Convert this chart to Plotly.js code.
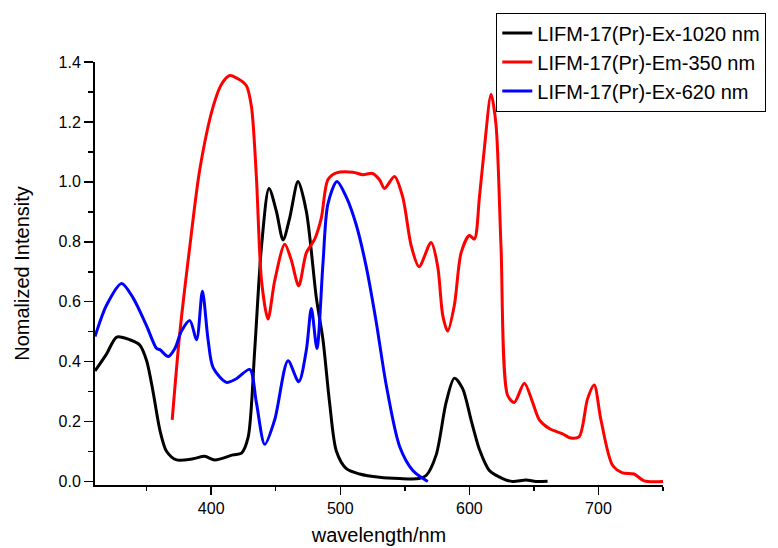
<!DOCTYPE html>
<html>
<head>
<meta charset="utf-8">
<script src="https://cdn.plot.ly/plotly-3.0.1.min.js"></script>
<style>html,body{margin:0;padding:0;background:#fff;}#chart{width:778px;height:548px;}</style>
</head>
<body>
<div id="chart"></div>
<script>
// LIFM-17(Pr)-Ex-1020 nm (black)
const exA_x = [310, 319, 326.8, 337, 344.8, 350, 355, 360.3, 365.4, 373.2, 386, 395, 402.8, 417, 423.5, 428.6, 433.7, 439, 444.8, 450.5, 455.7, 460.8, 467.3, 473.7, 481.5, 486.6, 491.7, 497, 504.7, 515, 530.4, 545.9, 561, 566.5, 574.3, 582, 588.4, 594.8, 601.3, 607.8, 615.5, 625.8, 633.5, 643.9, 651.6, 660.6];
const exA_y = [0.369, 0.426, 0.482, 0.473, 0.455, 0.403, 0.299, 0.171, 0.101, 0.072, 0.076, 0.084, 0.072, 0.089, 0.095, 0.147, 0.438, 0.786, 0.978, 0.902, 0.806, 0.879, 1.001, 0.902, 0.612, 0.473, 0.264, 0.101, 0.043, 0.025, 0.014, 0.010, 0.010, 0.020, 0.089, 0.264, 0.345, 0.310, 0.206, 0.107, 0.037, 0.010, 0.000, 0.005, 0.000, 0.001];

// LIFM-17(Pr)-Em-350 nm (red)
const em_x = [369.8, 375.7, 383.5, 391.2, 401.5, 408, 414.4, 420.8, 427.3, 431.2, 435, 439, 444, 449.2, 457, 462, 467.8, 473.7, 480.2, 485.3, 490.4, 497, 509.8, 517.5, 525, 530.4, 534.3, 542, 548.4, 555, 561, 570.4, 575.5, 579.4, 583.2, 588.4, 593.6, 600, 603.9, 607.8, 611.6, 616.8, 620.6, 624.5, 629.7, 634.8, 642.6, 649, 654.2, 661.9, 672.2, 678.7, 685.1, 691.5, 696.7, 701.9, 710.8, 718.6, 727.6, 735.4, 750];
const em_y = [0.206, 0.496, 0.786, 1.042, 1.251, 1.326, 1.355, 1.344, 1.321, 1.251, 1.018, 0.670, 0.542, 0.670, 0.792, 0.740, 0.653, 0.763, 0.809, 0.879, 1.007, 1.030, 1.032, 1.024, 1.028, 1.007, 0.978, 1.018, 0.949, 0.786, 0.717, 0.798, 0.717, 0.554, 0.502, 0.589, 0.763, 0.821, 0.809, 0.949, 1.111, 1.292, 1.193, 0.786, 0.287, 0.264, 0.328, 0.264, 0.206, 0.177, 0.159, 0.145, 0.150, 0.275, 0.322, 0.206, 0.055, 0.029, 0.025, 0.002, 0.000];

// LIFM-17(Pr)-Ex-620 nm (blue)
const exB_x = [310, 319, 330.6, 339.6, 350, 357.7, 360.3, 366.7, 371.9, 377, 383.5, 388.7, 393.2, 397.6, 401.5, 411.8, 419.5, 429.9, 435, 441.5, 449.2, 459.5, 467.8, 473.7, 477.6, 481.9, 486.6, 490.4, 497.4, 504.7, 512.4, 520.1, 527.9, 535.6, 545.9, 556.2, 567.8];
const exB_y = [0.484, 0.589, 0.661, 0.612, 0.519, 0.444, 0.440, 0.417, 0.444, 0.502, 0.537, 0.473, 0.635, 0.473, 0.380, 0.331, 0.343, 0.374, 0.264, 0.124, 0.206, 0.403, 0.333, 0.438, 0.577, 0.444, 0.728, 0.926, 1.001, 0.949, 0.856, 0.717, 0.531, 0.322, 0.118, 0.037, 0.000];

const names = ['LIFM-17(Pr)-Ex-1020 nm', 'LIFM-17(Pr)-Em-350 nm', 'LIFM-17(Pr)-Ex-620 nm'];
const colors = ['#000000', '#ff0000', '#0000ff'];

const font = 'Liberation Sans, Arial, sans-serif';
const traces = [[exA_x, exA_y], [em_x, em_y], [exB_x, exB_y]].map((d, i) => ({
  x: d[0], y: d[1], name: names[i], type: 'scatter', mode: 'lines',
  line: {color: colors[i], width: 3, shape: 'spline', smoothing: 0.8}
}));

const layout = {
  width: 778, height: 548,
  margin: {l: 95, r: 114, t: 59, b: 63},
  paper_bgcolor: '#fff', plot_bgcolor: '#fff',
  font: {family: font, color: '#000'},
  showlegend: true,
  legend: {
    x: 0.7065, xanchor: 'left', y: 1.117, yanchor: 'top',
    bgcolor: '#fff', bordercolor: '#000', borderwidth: 1,
    font: {family: font, size: 20, color: '#000'},
    tracegroupgap: 0
  },
  xaxis: {
    range: [310, 750], dtick: 100, tick0: 0,
    showgrid: false, zeroline: false,
    showline: true, linecolor: '#000', linewidth: 2,
    ticks: 'outside', ticklen: 8, tickwidth: 1.5, tickcolor: '#000',
    tickfont: {family: font, size: 16, color: '#000'},
    minor: {dtick: 50, tick0: 0, ticks: 'outside', ticklen: 4, tickwidth: 1.5, tickcolor: '#000', showgrid: false},
    title: {text: 'wavelength/nm', font: {family: font, size: 20, color: '#000'}, standoff: 12}
  },
  yaxis: {
    range: [-0.0116, 1.4], dtick: 0.2, tick0: 0, tickformat: '.1f',
    showgrid: false, zeroline: false,
    showline: true, linecolor: '#000', linewidth: 2,
    ticks: 'outside', ticklen: 9, tickwidth: 1.5, tickcolor: '#000',
    tickfont: {family: font, size: 16, color: '#000'},
    minor: {dtick: 0.1, tick0: 0, ticks: 'outside', ticklen: 5, tickwidth: 1.5, tickcolor: '#000', showgrid: false},
    title: {text: 'Nomalized Intensity', font: {family: font, size: 20, color: '#000'}, standoff: 24}
  }
};

Plotly.newPlot('chart', traces, layout, {displayModeBar: false, staticPlot: true});
</script>
</body>
</html>
